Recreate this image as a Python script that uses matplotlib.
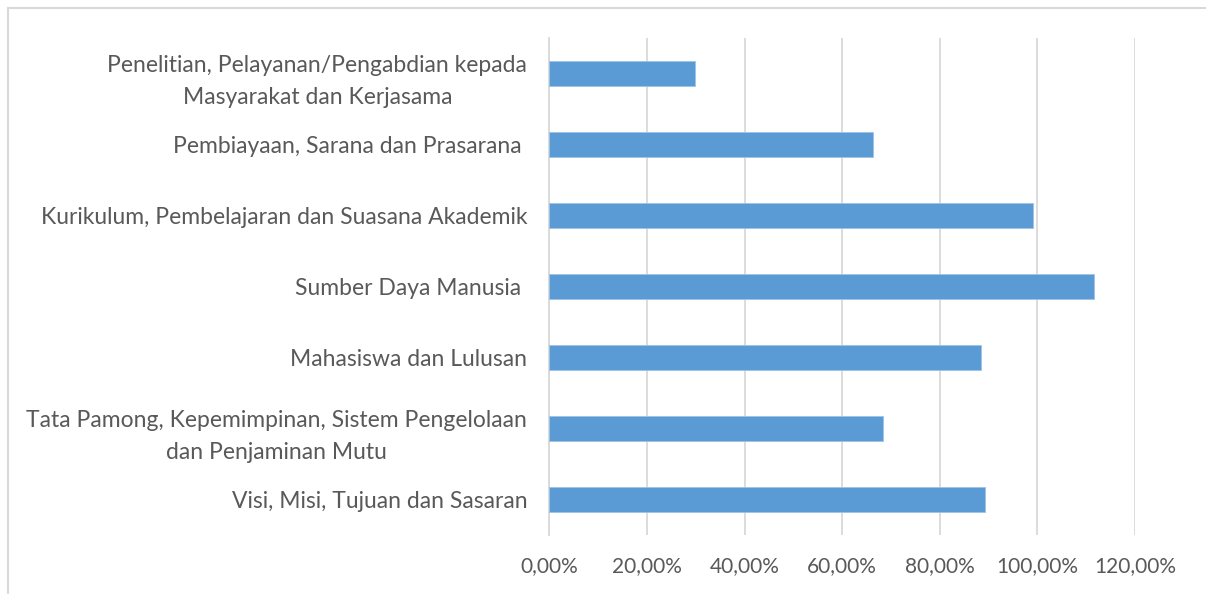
import matplotlib.pyplot as plt
from matplotlib.patches import Rectangle
from matplotlib.ticker import FuncFormatter

categories = [
    "Visi, Misi, Tujuan dan Sasaran",
    "Tata Pamong, Kepemimpinan, Sistem Pengelolaan\ndan Penjaminan Mutu",
    "Mahasiswa dan Lulusan",
    "Sumber Daya Manusia ",
    "Kurikulum, Pembelajaran dan Suasana Akademik",
    "Pembiayaan, Sarana dan Prasarana ",
    "Penelitian, Pelayanan/Pengabdian kepada\nMasyarakat dan Kerjasama",
]
values = [0.893, 0.683, 0.885, 1.116, 0.991, 0.664, 0.298]
ticks = [0, 0.2, 0.4, 0.6, 0.8, 1.0, 1.2]

plt.rcParams['font.family'] = ['Lato', 'DejaVu Sans']
text_col = '#595959'

fig = plt.figure(figsize=(12.06, 5.94), dpi=100)
ax = fig.add_axes([0.4556, 0.0993, 0.4855, 0.8367])

ax.barh(range(len(categories)), values, height=0.35, color='#5B9BD5',
        edgecolor='#9DC3E6', linewidth=0.6, zorder=3)

ax.set_xlim(0, 1.2)
ax.set_ylim(-0.5, len(categories) - 0.5)
ax.set_xticks(ticks)
ax.xaxis.set_major_formatter(FuncFormatter(lambda v, p: f"{v*100:.2f}%".replace('.', ',')))
ax.set_yticks(range(len(categories)))
ax.set_yticklabels(categories, multialignment='center', linespacing=1.65)

ax.grid(axis='x', color='#D9D9D9', linewidth=1.3, zorder=0)
for s in ['top', 'right', 'bottom']:
    ax.spines[s].set_visible(False)
ax.spines['left'].set_color('#D9D9D9')
ax.spines['left'].set_linewidth(1.3)

ax.tick_params(axis='both', length=0, colors=text_col)
ax.tick_params(axis='y', pad=16, labelsize=16.5)
ax.tick_params(axis='x', pad=15, labelsize=15)

# chart frame
fig.patches.append(Rectangle((8/1206, -0.1), 1.2, 1.1 - 8/594, transform=fig.transFigure,
                             fill=False, edgecolor='#D9D9D9', linewidth=1.5))

fig.savefig('out.png', dpi=100)
